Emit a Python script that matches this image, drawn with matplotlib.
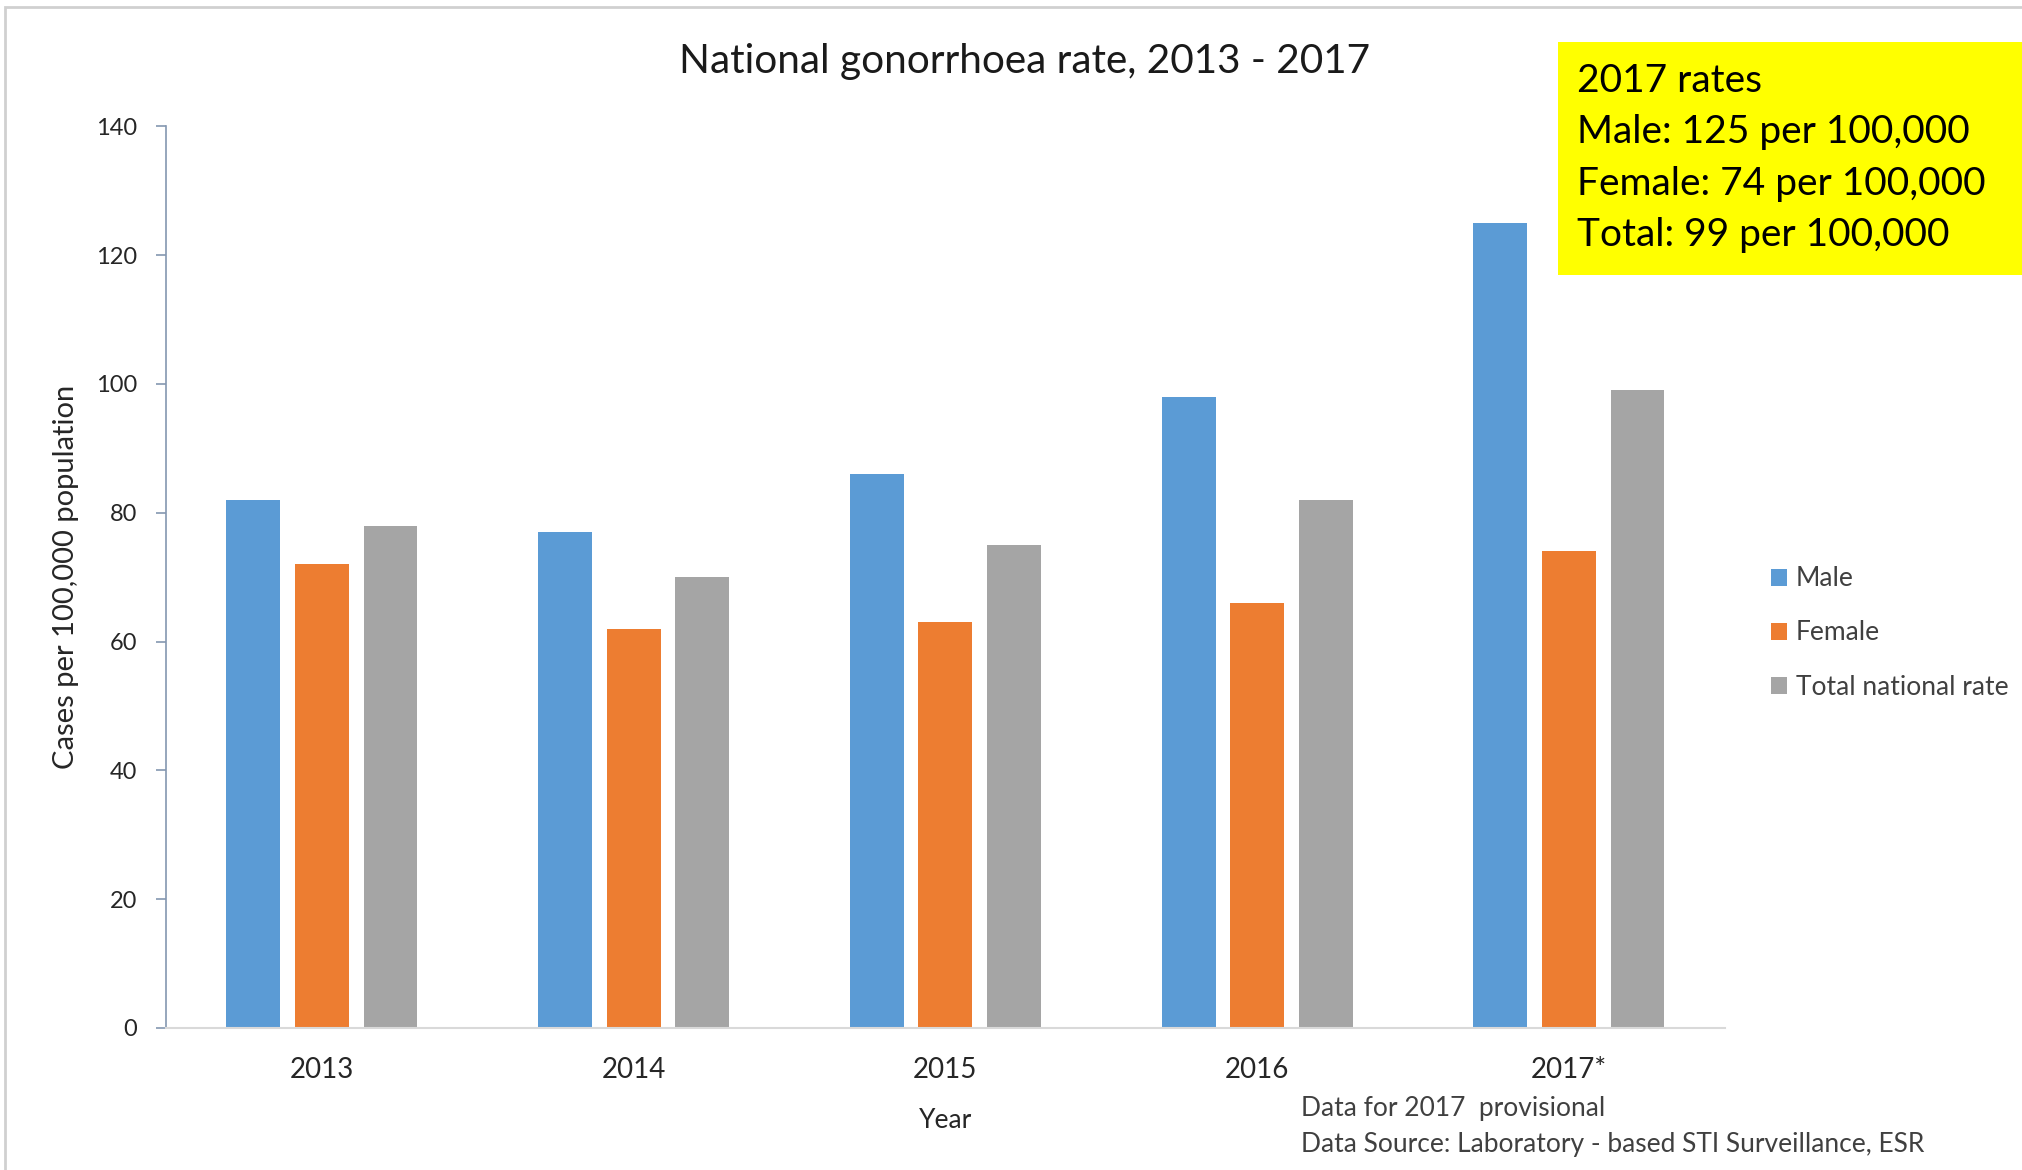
import numpy as np
import matplotlib
matplotlib.use("Agg")
import matplotlib.pyplot as plt
from matplotlib.patches import Rectangle

plt.rcParams['font.family'] = ['Lato', 'DejaVu Sans']

years = ['2013', '2014', '2015', '2016', '2017*']
male = [82, 77, 86, 98, 125]
female = [72, 62, 63, 66, 74]
total = [78, 70, 75, 82, 99]
series_names = ['Male', 'Female', 'Total national rate']
colors = ['#5B9BD5', '#ED7D31', '#A5A5A5']
box_lines = ['2017 rates', 'Male: 125 per 100,000', 'Female: 74 per 100,000', 'Total: 99 per 100,000']
notes = ['Data for 2017  provisional', 'Data Source: Laboratory - based STI Surveillance, ESR']

W, H = 2022, 1170
fig = plt.figure(figsize=(W / 100, H / 100), dpi=100)
ax = fig.add_axes([0.0821, 0.1214, 0.853 - 0.0821, 0.892 - 0.1214])

x = np.arange(len(years))
step = 0.22
width = 0.173
for i, (vals, name, c) in enumerate(zip([male, female, total], series_names, colors)):
    ax.bar(x + (i - 1) * step, vals, width=width, color=c, label=name, zorder=2)

ax.set_xlim(-0.5, len(years) - 0.5)
ax.set_ylim(0, 140)
ax.set_yticks(np.arange(0, 141, 20))
ax.set_xticks(x)
ax.set_xticklabels(years)

for s in ['top', 'right']:
    ax.spines[s].set_visible(False)
ax.spines['left'].set_color('#8497B0')
ax.spines['left'].set_linewidth(1.2)
ax.spines['bottom'].set_color('#D9D9D9')
ax.spines['bottom'].set_linewidth(1.5)
ax.tick_params(axis='y', length=7, width=1.2, color='#8497B0', labelsize=17,
               labelcolor='#262626', pad=14)
ax.tick_params(axis='x', length=0, labelsize=20, labelcolor='#262626', pad=21)

ax.set_ylabel('Cases per 100,000 population', fontsize=21, color='#262626', labelpad=12)
ax.set_xlabel('Year', fontsize=19, color='#262626', labelpad=18)

fig.text(1025 / W, 1 - 61 / H, 'National gonorrhoea rate, 2013 - 2017', ha='center', va='center',
         fontsize=29.2, color='#1a1a1a')

ax.legend(loc='center left', bbox_to_anchor=(0.864, 1 - 633 / H), bbox_transform=fig.transFigure,
          frameon=False, fontsize=19, handlelength=0.6, handleheight=0.6,
          handletextpad=0.35, labelspacing=1.1, labelcolor='#404040')

# yellow summary box for 2017
fig.patches.append(Rectangle((1558 / W, 1 - 275 / H), 1 - 1558 / W, (275 - 42) / H,
                             transform=fig.transFigure, facecolor='#FFFF00', edgecolor='none',
                             zorder=0))
for k, line in enumerate(box_lines):
    fig.text(1577 / W, 1 - (80.5 + 51.6 * k) / H, line, ha='left', va='center',
             fontsize=28, color='black')

for k, line in enumerate(notes):
    fig.text(1301 / W, 1 - (1108.5 + 36 * k) / H, line, ha='left', va='center',
             fontsize=19, color='#404040')

# outer frame
fig.patches.append(Rectangle((5 / W, -0.05), 1.1, 1 - 7 / H + 0.05,
                             transform=fig.transFigure, facecolor='none', edgecolor='#D0D0D0',
                             linewidth=2, zorder=0))

fig.savefig('out.png', dpi=100)
